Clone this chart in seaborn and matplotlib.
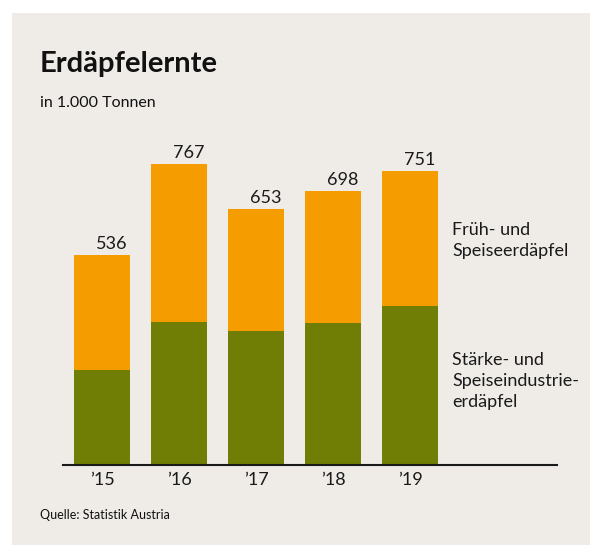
import matplotlib
matplotlib.use("Agg")
import matplotlib.pyplot as plt
import seaborn as sns

years = ["’15", "’16", "’17", "’18", "’19"]
totals = [536, 767, 653, 698, 751]
staerke = [242, 365, 342, 362, 405]
legend_top = ["Früh- und", "Speiseerdäpfel"]
legend_bottom = ["Stärke- und", "Speiseindustrie-", "erdäpfel"]

orange = "#F49C00"
green = "#717E05"
bg = "#EFECE8"

sns.set_style("white")
plt.rcParams["font.family"] = ["Lato", "DejaVu Sans"]

W, H = 590, 545
fig = plt.figure(figsize=(W / 100, H / 100), dpi=100)
fig.patch.set_facecolor("white")
fig.patches.append(plt.Rectangle((12 / W, 0), 1, 1 - 13 / H, transform=fig.transFigure,
                                 facecolor=bg, edgecolor="none", zorder=-5))

ax = fig.add_axes([63 / W, (H - 465) / H, 494 / W, 325 / H])
ax.set_facecolor("none")
ax.set_zorder(2)

sns.barplot(x=years, y=totals, color=orange, width=0.727, saturation=1,
            linewidth=0, ax=ax)
sns.barplot(x=years, y=staerke, color=green, width=0.727, saturation=1,
            linewidth=0, ax=ax)

ax.set_xlim(-0.506, 5.91)
ax.set_ylim(0, 829)
ax.set_yticks([])
for s in ["top", "left", "right"]:
    ax.spines[s].set_visible(False)
ax.spines["bottom"].set_linewidth(1.5)
ax.spines["bottom"].set_color("#1a1a1a")
ax.tick_params(axis="x", length=0, pad=5, labelsize=13, colors="#1a1a1a")
ax.set_xlabel("")
ax.set_ylabel("")

for i, t in enumerate(totals):
    ax.annotate(str(t), (i + 0.13, t), xytext=(0, 6), textcoords="offset pixels",
                ha="center", va="baseline", fontsize=13, color="#1a1a1a")

def px(x, y):
    return x / W, 1 - y / H

fig.text(*px(40, 72), "Erdäpfelernte", fontsize=21, fontweight="bold",
         color="#111111", va="baseline")
fig.text(*px(40, 107), "in 1.000 Tonnen", fontsize=11.5, color="#111111", va="baseline")
fig.text(*px(40, 519), "Quelle: Statistik Austria", fontsize=9, color="#111111",
         va="baseline")

for k, line in enumerate(legend_top):
    fig.text(*px(452, 235 + 21 * k), line, fontsize=13, color="#1a1a1a", va="baseline")
for k, line in enumerate(legend_bottom):
    fig.text(*px(452, 365 + 21 * k), line, fontsize=13, color="#1a1a1a", va="baseline")

fig.savefig("out.png", dpi=100)
